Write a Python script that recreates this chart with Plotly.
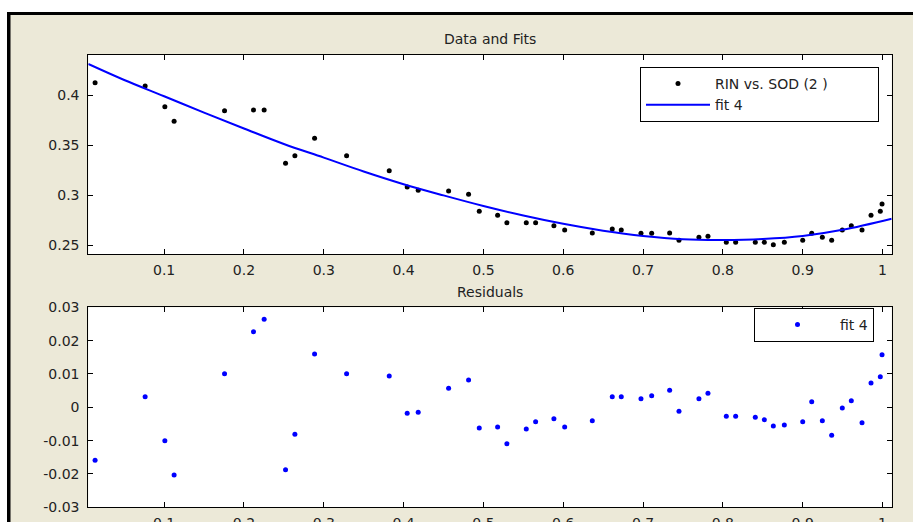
import plotly.graph_objects as go

# ---- data ----
x_data = [0.0135, 0.0762, 0.1009, 0.1125, 0.1757, 0.2120, 0.2253, 0.2521, 0.2638, 0.2885,
          0.3286, 0.3820, 0.4045, 0.4183, 0.4564, 0.4814, 0.4948, 0.5178, 0.5294, 0.5537,
          0.5654, 0.5883, 0.6018, 0.6364, 0.6614, 0.6727, 0.6974, 0.7108, 0.7333, 0.7450,
          0.7700, 0.7813, 0.8043, 0.8160, 0.8406, 0.8519, 0.8632, 0.8770, 0.9000, 0.9113,
          0.9246, 0.9363, 0.9496, 0.9609, 0.9743, 0.9856, 0.9972, 0.9994]
y_data = [0.4123, 0.4090, 0.3883, 0.3737, 0.3843, 0.3850, 0.3850, 0.3317, 0.3393, 0.3567,
          0.3393, 0.3243, 0.3080, 0.3047, 0.3040, 0.3007, 0.2837, 0.2797, 0.2723, 0.2723,
          0.2723, 0.2693, 0.2650, 0.2620, 0.2660, 0.2650, 0.2617, 0.2617, 0.2620, 0.2547,
          0.2577, 0.2587, 0.2527, 0.2527, 0.2527, 0.2527, 0.2503, 0.2527, 0.2547, 0.2617,
          0.2577, 0.2547, 0.2650, 0.2693, 0.2650, 0.2797, 0.2837, 0.2910]
residuals = [-0.0159, 0.0032, -0.0100, -0.0203, 0.0101, 0.0227, 0.0264, -0.0187, -0.0081, 0.0160,
             0.0101, 0.0094, -0.0018, -0.0015, 0.0057, 0.0082, -0.0062, -0.0059, -0.0109, -0.0065,
             -0.0043, -0.0034, -0.0059, -0.0040, 0.0032, 0.0032, 0.0026, 0.0035, 0.0051, -0.0012,
             0.0026, 0.0042, -0.0027, -0.0027, -0.0030, -0.0037, -0.0056, -0.0053, -0.0043, 0.0017,
             -0.0040, -0.0084, -0.0002, 0.0020, -0.0046, 0.0073, 0.0092, 0.0158]
fit_x = [0.005, 0.05, 0.1, 0.15, 0.2, 0.25, 0.3, 0.35, 0.4, 0.45, 0.5,
         0.55, 0.6, 0.65, 0.7, 0.75, 0.8, 0.85, 0.9, 0.95, 1.0115]
fit_y = [0.4310, 0.4150, 0.3988, 0.3823, 0.3665, 0.3510, 0.3374, 0.3235, 0.3108, 0.2996, 0.2890,
         0.2795, 0.2712, 0.2643, 0.2590, 0.2557, 0.2550, 0.2560, 0.2590, 0.2652, 0.2763]

x_tickvals = [0.1, 0.2, 0.3, 0.4, 0.5, 0.6, 0.7, 0.8, 0.9, 1.0]
x_ticktext = ["0.1", "0.2", "0.3", "0.4", "0.5", "0.6", "0.7", "0.8", "0.9", "1"]
y1_tickvals = [0.25, 0.3, 0.35, 0.4]
y1_ticktext = ["0.25", "0.3", "0.35", "0.4"]
y2_tickvals = [-0.03, -0.02, -0.01, 0, 0.01, 0.02, 0.03]
y2_ticktext = ["-0.03", "-0.02", "-0.01", "0", "0.01", "0.02", "0.03"]

data_name = "RIN vs. SOD (2 )"
fit_name = "fit 4"

W, H = 913, 522
FONT = "DejaVu Sans"
FS = 14
TXT = "#222222"
BG = "#ECE9D8"
PAD = "\u00a0" * 10  # widen the legend box like the original


def px_x(p):
    return p / W


def px_y(p):
    return 1 - p / H


fig = go.Figure()
fig.add_trace(go.Scatter(x=x_data, y=y_data, mode="markers", name=data_name + PAD,
                         marker=dict(color="black", size=5), xaxis="x", yaxis="y", legend="legend"))
fig.add_trace(go.Scatter(x=fit_x, y=fit_y, mode="lines", name=fit_name, line_shape="spline",
                         line=dict(color="#0000FF", width=2), xaxis="x", yaxis="y", legend="legend"))
fig.add_trace(go.Scatter(x=x_data, y=residuals, mode="markers", name=fit_name,
                         marker=dict(color="#0000FF", size=5), xaxis="x2", yaxis="y2", legend="legend2"))

axis_common = dict(showline=True, linecolor="black", linewidth=1, mirror="ticks",
                   ticks="inside", ticklen=5, tickcolor="black", tickwidth=1, automargin=False,
                   showgrid=False, zeroline=False, tickfont=dict(family=FONT, size=FS, color=TXT))
xdom = [px_x(88.3), px_x(891.7)]
xr = [0.005, 1.0115]

fig.update_layout(
    width=W, height=H, autosize=False,
    margin=dict(l=0, r=0, t=0, b=0, pad=0, autoexpand=False),
    paper_bgcolor=BG, plot_bgcolor="white",
    font=dict(family=FONT, size=FS, color=TXT),
    xaxis=dict(domain=xdom, range=xr, anchor="y", tickvals=x_tickvals, ticktext=x_ticktext,
               ticklabelstandoff=3, **axis_common),
    yaxis=dict(domain=[px_y(254.3), px_y(55)], range=[0.2407, 0.44], anchor="x",
               tickvals=y1_tickvals, ticktext=y1_ticktext, ticklabelstandoff=5, **axis_common),
    xaxis2=dict(domain=xdom, range=xr, anchor="y2", tickvals=x_tickvals, ticktext=x_ticktext,
                ticklabelstandoff=3, **axis_common),
    yaxis2=dict(domain=[px_y(507.3), px_y(307.3)], range=[-0.03, 0.03], anchor="x2",
                tickvals=y2_tickvals, ticktext=y2_ticktext, ticklabelstandoff=5, **axis_common),
    legend=dict(x=px_x(640), y=px_y(67), xanchor="left", yanchor="top",
                bgcolor="white", bordercolor="black", borderwidth=1, itemwidth=64,
                font=dict(family=FONT, size=FS, color=TXT), tracegroupgap=0),
    legend2=dict(x=px_x(754), y=px_y(308), xanchor="left", yanchor="top",
                 bgcolor="white", bordercolor="black", borderwidth=1, itemwidth=75,
                 font=dict(family=FONT, size=FS, color=TXT)),
    showlegend=True,
)

fig.add_annotation(text="Data and Fits", x=(xdom[0] + xdom[1]) / 2, y=px_y(39), xref="paper", yref="paper",
                   showarrow=False, xanchor="center", yanchor="middle", font=dict(family=FONT, size=FS, color=TXT))
fig.add_annotation(text="Residuals", x=(xdom[0] + xdom[1]) / 2, y=px_y(292), xref="paper", yref="paper",
                   showarrow=False, xanchor="center", yanchor="middle", font=dict(family=FONT, size=FS, color=TXT))

# window frame: white strip on top/left, black border line
fig.add_shape(type="rect", xref="paper", yref="paper", x0=0, x1=1, y0=px_y(12), y1=1,
              fillcolor="white", line_width=0, layer="below")
fig.add_shape(type="rect", xref="paper", yref="paper", x0=0, x1=px_x(7), y0=0, y1=1,
              fillcolor="white", line_width=0, layer="below")
fig.add_shape(type="rect", xref="paper", yref="paper", x0=px_x(7), x1=1, y0=px_y(15), y1=px_y(12),
              fillcolor="black", line_width=0, layer="below")
fig.add_shape(type="rect", xref="paper", yref="paper", x0=px_x(7), x1=px_x(10.5), y0=0, y1=px_y(12),
              fillcolor="black", line_width=0, layer="below")

fig.write_html(
    "out.html",
    config={"displayModeBar": False, "responsive": False},
    post_script=("document.documentElement.style.margin='0';document.documentElement.style.padding='0';"
                 "document.body.style.margin='0';document.body.style.padding='0';"
                 "document.documentElement.style.overflow='hidden';document.body.style.overflow='hidden';"),
)
